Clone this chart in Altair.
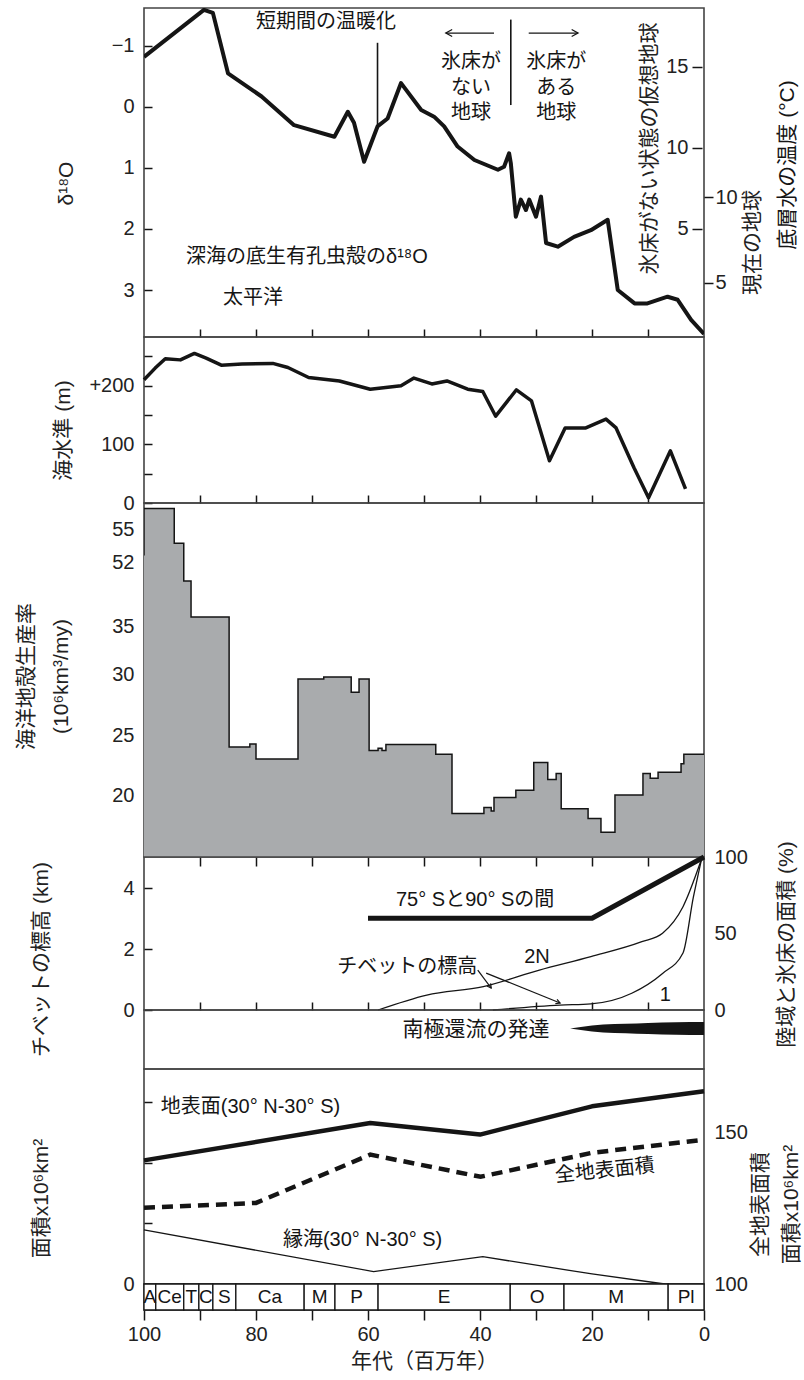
import altair as alt
import pandas as pd

INK = "#151515"
FONT = "Liberation Sans, Noto Sans CJK JP, DejaVu Sans, sans-serif"

# ---------------- data ----------------
AGE_TICKS = [0, 10, 20, 30, 40, 50, 60, 70, 80, 90, 100]
INNER_TICKS = [10, 20, 30, 40, 50, 60, 70, 80, 90]

# panel 1: benthic foraminifera d18O (Pacific)
D18_MA = [100.0, 89.3, 87.7, 85.0, 79.0, 73.2, 66.0, 63.6, 62.5, 60.7, 58.3, 56.5, 54.1,
          50.5, 48.2, 46.4, 44.0, 41.0, 36.8, 35.7, 34.8, 34.5, 33.6, 32.7, 31.8, 31.2,
          30.0, 29.1, 28.2, 26.1, 23.2, 20.2, 17.2, 15.4, 12.4, 10.1, 6.5, 4.7, 2.3, 0.0]
D18_VAL = [-0.82, -1.59, -1.54, -0.55, -0.17, 0.30, 0.49, 0.08, 0.26, 0.90, 0.32, 0.19, -0.39,
           0.05, 0.16, 0.32, 0.65, 0.87, 1.03, 0.98, 0.76, 0.92, 1.80, 1.52, 1.69, 1.52,
           1.80, 1.47, 2.23, 2.29, 2.13, 2.02, 1.85, 3.00, 3.22, 3.22, 3.11, 3.16, 3.49, 3.72]
D18_TICKS = [-1, 0, 1, 2, 3]
TEMP_NOICE_TICKS = [5, 10, 15]
TEMP_NOW_TICKS = [5, 10]

P1_CTEXT = ["短期間の温暖化", "氷床が", "ない", "地球", "氷床が", "ある", "地球"]
P1_CTEXT_MA = [67.5, 41.6, 41.6, 41.6, 26.4, 26.4, 26.4]
P1_CTEXT_V = [-1.39, -0.74, -0.31, 0.10, -0.74, -0.31, 0.10]
P1_LTEXT = ["深海の底生有孔虫殻のδ¹⁸O", "太平洋"]
P1_LTEXT_MA = [92.5, 85.9]
P1_LTEXT_V = [2.46, 3.13]
P1_RULE_MA = [58.3, 34.5]
P1_RULE_TOP = [-1.05, -1.43]
P1_RULE_BOT = [0.33, -0.03]
P1_ARROW_FROM = [37.5, 31.3]
P1_ARROW_TO = [46.1, 22.5]
P1_ARROW_V = [-1.21, -1.21]
P1_ARROW_DIR = ["l", "r"]

# panel 2: sea level (m)
SEA_MA = [100.0, 98.0, 96.2, 93.5, 91.0, 88.9, 86.2, 82.5, 77.0, 74.3, 70.6, 65.1, 59.6, 54.1,
          51.8, 48.6, 45.9, 42.2, 39.5, 37.2, 33.5, 30.8, 27.6, 24.8, 21.1, 17.5, 15.7, 12.5,
          9.9, 6.0, 3.3]
SEA_M = [210, 230, 246, 244, 255, 247, 235, 237, 238, 231, 214, 208, 194, 200,
         213, 203, 208, 194, 190, 148, 193, 174, 72, 128, 128, 143, 128, 60,
         9, 89, 24]
SEA_TICKS = [0, 50, 100, 150, 200, 250]

# panel 3: ocean crust production rate (step: value holds from start age to next age)
PROD_MA = [100.0, 94.6, 92.9, 91.6, 84.8, 81.1, 80.0, 72.5, 67.9, 63.0, 61.6, 59.8, 58.2, 57.5,
           56.8, 47.9, 45.0, 39.3, 38.0, 37.5, 33.6, 30.4, 27.9, 26.4, 25.5, 20.7, 18.4, 15.9,
           10.9, 9.6, 8.2, 4.1, 3.6, 2.3, 0.0]
PROD_VAL = [52.6, 56.9, 53.7, 43.2, 36.2, 24.0, 24.25, 23.0, 29.6, 29.75, 28.5, 29.6, 23.7, 23.9,
            23.7, 24.2, 23.4, 18.5, 19.0, 18.7, 19.8, 20.4, 22.7, 21.3, 21.8, 18.9, 18.1, 17.0,
            20.0, 21.8, 21.4, 21.9, 22.6, 23.4, 23.4]
PROD_TICKS = [20, 25, 30, 35, 40, 52, 55]
PROD_FLOOR = 15

# panel 4: Tibet elevation (km) and ice area (%)
TIB2N_MA = [58.2, 49.5, 39.4, 29.4, 20.2, 11.1, 7.4, 3.75, 0.5]
TIB2N_KM = [0.0, 0.49, 0.77, 1.31, 1.75, 2.24, 2.52, 3.39, 4.92]
TIB1_MA = [37.7, 25.7, 20.2, 12.9, 7.4, 3.75, 1.9, 0.5]
TIB1_KM = [0.0, 0.16, 0.2, 0.55, 1.2, 1.87, 3.7, 4.9]
ICE_MA = [60.0, 20.0, 0.0]
ICE_PCT = [60, 60, 100]
KM_TICKS = [0, 1, 2, 3, 4]
PCT_TICKS = [0, 50, 100]
P4_TEXT = ["75° Sと90° Sの間", "2N", "チベットの標高", "1"]
P4_TEXT_MA = [55.0, 32.1, 65.5, 7.9]
P4_TEXT_KM = [3.6, 1.74, 1.41, 0.49]
P4_PTR_MA0 = [40.4, 38.9]
P4_PTR_KM0 = [1.31, 1.21]
P4_PTR_MA1 = [38.0, 25.7]
P4_PTR_KM1 = [0.72, 0.23]

# panel 5: Antarctic circumpolar current (wedge half-thickness)
ACC_MA = [23.9, 22.0, 20.0, 18.0, 14.0, 10.0, 5.0, 0.0]
ACC_HALF = [0.0, 0.025, 0.05, 0.068, 0.08, 0.093, 0.105, 0.11]
ACC_TEXT = ["南極還流の発達"]
ACC_TEXT_MA = [40.7]
ACC_TEXT_V = [0.66]

# panel 6: areas (10^6 km^2)
LAND_MA = [100.0, 59.6, 40.0, 20.0, 0.0]
LAND_VAL = [40.7, 53.0, 49.2, 58.5, 63.5]
MARG_MA = [100.0, 59.0, 39.5, 20.0, 7.0]
MARG_VAL = [17.8, 4.1, 9.0, 3.3, 0.0]
TOTAL_MA = [100.0, 80.0, 59.6, 39.9, 20.0, 0.0]
TOTAL_VAL = [125.1, 126.7, 142.6, 135.3, 143.2, 147.5]
AREA_TICKS = [0, 10, 20, 30, 40, 50, 60]
TOTAL_TICKS = [100, 150]
P6_TEXT = ["地表面(30° N-30° S)", "縁海(30° N-30° S)"]
P6_TEXT_MA = [97.0, 75.2]
P6_TEXT_V = [58.4, 14.5]
P6_TOTAL_TEXT = ["全地表面積"]
P6_TOTAL_MA = [17.7]
P6_TOTAL_V = [37.3]

# time scale strip
STAGE_NAMES = ["A", "Ce", "T", "C", "S", "Ca", "M", "P", "E", "O", "M", "Pl"]
STAGE_START = [100.0, 97.9, 92.9, 90.2, 87.7, 83.6, 71.4, 65.9, 58.2, 34.6, 25.0, 6.4]
STAGE_END = [97.9, 92.9, 90.2, 87.7, 83.6, 71.4, 65.9, 58.2, 34.6, 25.0, 6.4, 0.0]

# ---------------- layout ----------------
W = 560
H1, H2, H3, H4, H5, H6, HT = 329, 166, 354, 153, 59, 215, 26
JP_SIZE = 20

XS = alt.Scale(domain=[100, 0], nice=False, zero=False)
OMIT = "omit"


def xq(field="ma", axis=OMIT):
    if axis is OMIT:
        return alt.X(f"{field}:Q", scale=XS, title=None)
    return alt.X(f"{field}:Q", scale=XS, axis=axis, title=None)


def inward_bottom():
    return alt.Axis(orient="bottom", offset=-8, tickSize=8, values=INNER_TICKS, labels=False,
                    domain=False, grid=False, title=None, tickColor=INK, tickWidth=1.5)


def left_axis(values, title, tx, ty, label_expr=None, **kw):
    a = dict(orient="left", values=values, offset=-8, tickSize=8, labelPadding=10,
             domain=False, grid=False, title=title, titleAngle=270, titleBaseline="middle",
             titleAlign="center", titleX=tx, titleY=ty, tickColor=INK, tickWidth=1.5)
    if label_expr:
        a["labelExpr"] = label_expr
    a.update(kw)
    return alt.Axis(**a)


HEAD_L = "M1,-0.55L0,0L1,0.55"
HEAD_R = "M-1,-0.55L0,0L-1,0.55"

# ---------------- panel 1 ----------------
YS1 = alt.Scale(domain=[-1.62, 3.77], reverse=True, nice=False, zero=False)
d18 = pd.DataFrame({"ma": D18_MA, "v": D18_VAL})
p1_line = alt.Chart(d18).mark_line(color=INK, strokeWidth=4, strokeJoin="round", clip=True).encode(
    x=xq(axis=inward_bottom()),
    y=alt.Y("v:Q", scale=YS1, axis=left_axis(D18_TICKS, "δ¹⁸O", -86, 175, format="d")),
)
p1_ct = alt.Chart(pd.DataFrame({"ma": P1_CTEXT_MA, "v": P1_CTEXT_V, "t": P1_CTEXT})).mark_text(
    align="center", baseline="middle", fontSize=JP_SIZE, color=INK).encode(
    x=xq(), y=alt.Y("v:Q", scale=YS1), text="t:N")
p1_lt = alt.Chart(pd.DataFrame({"ma": P1_LTEXT_MA, "v": P1_LTEXT_V, "t": P1_LTEXT})).mark_text(
    align="left", baseline="middle", fontSize=JP_SIZE, color=INK).encode(
    x=xq(), y=alt.Y("v:Q", scale=YS1), text="t:N")
p1_rules = alt.Chart(pd.DataFrame({"ma": P1_RULE_MA, "v": P1_RULE_TOP, "b": P1_RULE_BOT})).mark_rule(
    color=INK, strokeWidth=1.6).encode(
    x=xq(), y=alt.Y("v:Q", scale=YS1), y2="b:Q")
arr = pd.DataFrame({"ma": P1_ARROW_FROM, "x1": P1_ARROW_TO, "v": P1_ARROW_V, "d": P1_ARROW_DIR})
p1_shafts = alt.Chart(arr).mark_rule(color=INK, strokeWidth=1.3).encode(
    x=xq(), x2="x1:Q", y=alt.Y("v:Q", scale=YS1))
p1_heads = alt.Chart(arr).mark_point(filled=False, size=160, strokeWidth=1.3, color=INK, opacity=1).encode(
    x=xq("x1"), y=alt.Y("v:Q", scale=YS1),
    shape=alt.Shape("d:N", scale=alt.Scale(domain=["l", "r"], range=[HEAD_L, HEAD_R]), legend=None))
p1_rtitle = alt.Chart(pd.DataFrame({"t": ["底層水の温度 (°C)"]})).mark_text(
    angle=270, align="center", baseline="middle", fontSize=21, color=INK).encode(
    x=alt.value(644), y=alt.value(157), text="t:N")

t_noice = alt.Chart(pd.DataFrame({"t": TEMP_NOICE_TICKS})).mark_point(opacity=0).encode(
    y=alt.Y("t:Q", scale=alt.Scale(domain=[-1.67, 18.64], nice=False, zero=False),
            axis=alt.Axis(orient="left", offset=-558, values=TEMP_NOICE_TICKS, tickSize=10,
                          labelPadding=4, domain=False, grid=False, tickColor=INK, tickWidth=1.5,
                          title="氷床がない状態の仮想地球", titleAngle=270, titleBaseline="middle",
                          titleX=-53, titleY=140)))
t_now = alt.Chart(pd.DataFrame({"t": TEMP_NOW_TICKS})).mark_point(opacity=0).encode(
    y=alt.Y("t:Q", scale=alt.Scale(domain=[1.86, 20.99], nice=False, zero=False),
            axis=alt.Axis(orient="right", values=TEMP_NOW_TICKS, tickSize=9, labelPadding=2,
                          domain=False, grid=False, tickColor=INK, tickWidth=1.5,
                          title="現在の地球", titleAngle=270, titleBaseline="middle",
                          titleX=48, titleY=234)))

p1 = alt.layer(
    alt.layer(p1_line, p1_ct, p1_lt, p1_rules, p1_shafts, p1_heads, p1_rtitle),
    t_noice, t_now,
).resolve_scale(y="independent").properties(width=W, height=H1)

# ---------------- panel 2 ----------------
YS2 = alt.Scale(domain=[0, 283], nice=False, zero=False)
p2 = alt.Chart(pd.DataFrame({"ma": SEA_MA, "m": SEA_M})).mark_line(
    color=INK, strokeWidth=3.5, strokeJoin="round").encode(
    x=xq(axis=inward_bottom()),
    y=alt.Y("m:Q", scale=YS2, axis=left_axis(
        SEA_TICKS, "海水準 (m)", -89, 93,
        "datum.value == 200 ? '+200' : (datum.value % 100 == 0 ? datum.label : '')")),
).properties(width=W, height=H2)

# ---------------- panel 3 ----------------
YS3 = alt.Scale(domain=[15, 20, 25, 30, 35, 40, 52, 55, 57.4],
                range=[354, 292, 232, 171, 123, 85, 59, 26, 0], nice=False, zero=False)
prod = pd.DataFrame({"ma": PROD_MA, "v": PROD_VAL})
p3_area = alt.Chart(prod).mark_area(interpolate="step-before", color="#a9abad", opacity=1, clip=True).encode(
    x=xq(axis=alt.Axis(orient="bottom", offset=0, tickSize=9, values=INNER_TICKS, labels=False,
                       domain=False, grid=False, title=None, tickColor=INK, tickWidth=1.5)),
    y=alt.Y("v:Q", scale=YS3, axis=left_axis(PROD_TICKS, ["海洋地殻生産率", "(10⁶km³/my)"], -126, 173,
                                             "datum.value == 40 ? '' : datum.label",
                                             titleLineHeight=35)),
    y2=alt.datum(PROD_FLOOR),
)
p3_line = alt.Chart(prod).mark_line(interpolate="step-before", color=INK, strokeWidth=1.5, clip=True).encode(
    x=xq(), y=alt.Y("v:Q", scale=YS3))
p3 = alt.layer(p3_area, p3_line).properties(width=W, height=H3)

# ---------------- panel 4 ----------------
YS4 = alt.Scale(domain=[0, 5.02], nice=False, zero=False)
tib = pd.DataFrame({"ma": TIB2N_MA + TIB1_MA, "km": TIB2N_KM + TIB1_KM,
                    "s": ["2N"] * len(TIB2N_MA) + ["1"] * len(TIB1_MA)})
p4_tib = alt.Chart(tib).mark_line(color=INK, strokeWidth=1.3, interpolate="monotone").encode(
    x=xq(axis=inward_bottom()),
    y=alt.Y("km:Q", scale=YS4, axis=left_axis(KM_TICKS, "チベットの標高 (km)", -111, 102,
                                             "datum.value % 2 == 0 ? datum.label : ''")),
    detail="s:N")
p4_txt = alt.Chart(pd.DataFrame({"ma": P4_TEXT_MA, "km": P4_TEXT_KM, "t": P4_TEXT})).mark_text(
    align="left", baseline="middle", fontSize=JP_SIZE, color=INK).encode(
    x=xq(), y=alt.Y("km:Q", scale=YS4), text="t:N")
ptr = pd.DataFrame({"ma": P4_PTR_MA0, "b": P4_PTR_MA1, "km": P4_PTR_KM0, "d": P4_PTR_KM1})
p4_ptr = alt.Chart(ptr).mark_rule(color=INK, strokeWidth=1.2).encode(
    x=xq(), x2="b:Q", y=alt.Y("km:Q", scale=YS4), y2="d:Q")
p4_head1 = alt.Chart(ptr.iloc[[0]]).mark_point(
    shape=HEAD_R, angle=54, size=70, filled=False, strokeWidth=1.2, color=INK, opacity=1).encode(
    x=xq("b"), y=alt.Y("d:Q", scale=YS4))
p4_head2 = alt.Chart(ptr.iloc[[1]]).mark_point(
    shape=HEAD_R, angle=22, size=70, filled=False, strokeWidth=1.2, color=INK, opacity=1).encode(
    x=xq("b"), y=alt.Y("d:Q", scale=YS4))
p4_ice = alt.Chart(pd.DataFrame({"ma": ICE_MA, "pct": ICE_PCT})).mark_line(
    color=INK, strokeWidth=5, strokeJoin="round").encode(
    x=xq(),
    y=alt.Y("pct:Q", scale=alt.Scale(domain=[0, 100], nice=False, zero=False),
            axis=alt.Axis(orient="right", values=PCT_TICKS, ticks=False, labelPadding=10,
                          domain=False, grid=False, title="陸域と氷床の面積 (%)", titleAngle=270,
                          titleBaseline="middle", titleX=82, titleY=87)))
p4 = alt.layer(alt.layer(p4_tib, p4_txt, p4_ptr, p4_head1, p4_head2), p4_ice).resolve_scale(
    y="independent").properties(width=W, height=H4)

# ---------------- panel 5 ----------------
ACC_CENTER = 0.686
YS5 = alt.Scale(domain=[0, 1], nice=False, zero=False)
p5_wedge = alt.Chart(pd.DataFrame({"ma": ACC_MA, "h": ACC_HALF})).transform_calculate(
    hi=f"{ACC_CENTER} + datum.h", lo=f"{ACC_CENTER} - datum.h").mark_area(
    color=INK, interpolate="monotone").encode(
    x=xq(axis=None), y=alt.Y("hi:Q", scale=YS5, axis=None), y2="lo:Q")
p5_txt = alt.Chart(pd.DataFrame({"ma": ACC_TEXT_MA, "v": ACC_TEXT_V, "t": ACC_TEXT})).mark_text(
    align="center", baseline="middle", fontSize=21, color=INK).encode(
    x=xq(axis=None), y=alt.Y("v:Q", scale=YS5, axis=None), text="t:N")
p5_extent = alt.Chart(pd.DataFrame({"k": [0]})).mark_rule(opacity=0, strokeOpacity=0).encode(
    x=alt.value(-138), x2=alt.value(-138), y=alt.value(0), y2=alt.value(2))
p5 = alt.layer(p5_wedge, p5_txt, p5_extent).properties(width=W, height=H5)

# ---------------- panel 6 (its bottom axis sits below the time-scale strip) ----------------
YS6 = alt.Scale(domain=[0, 70.8], nice=False, zero=False)
age_axis = alt.Axis(orient="bottom", offset=HT, values=AGE_TICKS, tickSize=10, labelPadding=4,
                    labelFlush=False, domain=False, grid=False, tickColor=INK, tickWidth=1.5,
                    labelExpr="datum.value % 20 == 0 ? datum.label : ''",
                    title="年代（百万年）", titlePadding=6)
p6_land = alt.Chart(pd.DataFrame({"ma": LAND_MA, "v": LAND_VAL})).mark_line(
    color=INK, strokeWidth=4.5, strokeJoin="round").encode(
    x=alt.X("ma:Q", scale=XS, axis=age_axis),
    y=alt.Y("v:Q", scale=YS6, axis=left_axis(AREA_TICKS, "面積x10⁶km²", -111, 129,
                                            "datum.value % 50 == 0 ? datum.label : ''")))
p6_marg = alt.Chart(pd.DataFrame({"ma": MARG_MA, "v": MARG_VAL})).mark_line(
    color=INK, strokeWidth=1.3).encode(x=alt.X("ma:Q", scale=XS), y=alt.Y("v:Q", scale=YS6))
p6_txt = alt.Chart(pd.DataFrame({"ma": P6_TEXT_MA, "v": P6_TEXT_V, "t": P6_TEXT})).mark_text(
    align="left", baseline="middle", fontSize=JP_SIZE, color=INK).encode(
    x=alt.X("ma:Q", scale=XS), y=alt.Y("v:Q", scale=YS6), text="t:N")
p6_ttxt = alt.Chart(pd.DataFrame({"ma": P6_TOTAL_MA, "v": P6_TOTAL_V, "t": P6_TOTAL_TEXT})).mark_text(
    align="center", baseline="middle", fontSize=JP_SIZE, color=INK, angle=354).encode(
    x=alt.X("ma:Q", scale=XS), y=alt.Y("v:Q", scale=YS6), text="t:N")
p6_total = alt.Chart(pd.DataFrame({"ma": TOTAL_MA, "v": TOTAL_VAL})).mark_line(
    color=INK, strokeWidth=4.5, strokeDash=[11, 7]).encode(
    x=alt.X("ma:Q", scale=XS),
    y=alt.Y("v:Q", scale=alt.Scale(domain=[100, 170.8], nice=False, zero=False),
            axis=alt.Axis(orient="right", values=TOTAL_TICKS, ticks=False, labelPadding=10,
                          domain=False, grid=False, title=["全地表面積", "面積x10⁶km²"],
                          titleAngle=270, titleBaseline="middle", titleX=56, titleY=135,
                          titleLineHeight=31)))
p6 = alt.layer(alt.layer(p6_land, p6_marg, p6_txt, p6_ttxt), p6_total).resolve_scale(
    y="independent").properties(width=W, height=H6)

# ---------------- time scale ----------------
TSY = alt.Scale(domain=[0, 1], nice=False, zero=False)
stages = pd.DataFrame({"name": STAGE_NAMES, "start": STAGE_START, "end": STAGE_END})
stages["mid"] = (stages["start"] + stages["end"]) / 2
ts_rect = alt.Chart(stages).mark_rect(fill="white", stroke=INK, strokeWidth=1.3).encode(
    x=alt.X("start:Q", scale=XS, axis=None), x2="end:Q",
    y=alt.YDatum(0, scale=TSY, axis=None), y2=alt.Y2Datum(1))
ts_txt = alt.Chart(stages).mark_text(fontSize=19, color=INK, baseline="middle").encode(
    x=alt.X("mid:Q", scale=XS, axis=None),
    y=alt.YDatum(0.5, scale=TSY, axis=None), text="name:N")
ts = alt.layer(ts_rect, ts_txt).properties(width=W, height=HT)

chart = alt.vconcat(p1, p2, p3, p4, p5, p6, ts, spacing=0, bounds="flush").resolve_scale(
    x="independent", y="independent"
).properties(
    padding={"left": 5, "top": 7, "right": 0, "bottom": 2}
).configure(font=FONT).configure_axis(
    labelFont=FONT, titleFont=FONT, labelFontSize=20, titleFontSize=21,
    labelColor="#222", titleColor="#222", titleFontWeight="normal"
).configure_view(stroke="#444", strokeWidth=1.6).configure_text(font=FONT)

chart.save("out.html", embed_options={"renderer": "svg", "actions": False})
